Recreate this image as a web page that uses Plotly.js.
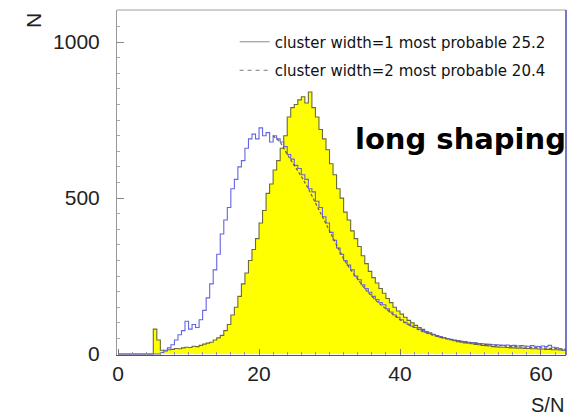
<!DOCTYPE html>
<html>
<head>
<meta charset="utf-8">
<script src="https://cdn.plot.ly/plotly-3.0.1.min.js"></script>
<style>html,body{margin:0;padding:0;background:#fff;}#chart{width:582px;height:417px;}</style>
</head>
<body>
<div id="chart"></div>
<script>
// Histogram bins: start 0, width 0.5 (S/N units)
const binStart = 0;
const binWidth = 0.5;

// cluster width = 1 (yellow filled histogram)
const width1Counts = [
  0,0,0,0,0,0,0,0,0,0,
  80,45,12,10,14,15,18,17,20,22,
  21,25,24,28,32,35,38,45,52,60,
  75,95,125,150,185,225,260,300,335,370,
  420,460,515,545,590,620,660,700,760,790,
  800,815,825,805,840,790,760,720,690,655,
  610,575,530,500,455,430,395,370,345,315,
  290,265,245,228,210,195,178,165,150,138,
  128,118,108,100,92,85,79,72,68,63,
  59,55,52,49,46,43,40,38,36,35,
  33,31,30,28,27,26,24,23,22,22,
  21,20,20,19,19,18,18,17,17,16,
  16,15,15,14,14,13,12,12
];

// cluster width = 2 (blue histogram)
const width2Counts = [
  0,0,0,0,0,0,0,0,0,0,
  0,0,5,12,20,30,45,62,75,105,
  80,95,85,110,140,180,225,270,320,385,
  430,470,530,560,600,620,660,690,705,690,
  725,700,710,680,700,690,680,665,640,625,
  605,595,575,560,530,520,490,470,440,420,
  390,365,340,320,300,285,270,250,238,222,
  210,198,185,175,165,158,145,135,125,118,
  110,102,96,90,85,80,75,70,66,62,
  58,56,53,50,47,45,43,41,40,38,
  37,36,34,33,32,31,30,30,29,28,
  29,27,28,26,27,26,25,27,25,24,
  26,24,28,22,20,16,13,12
];

// dashed curve (cluster width = 2, fitted shape)
const fitX = [22,23,24,25,26,27,28,29,30,31,32,33,34,35,36,37,38,39,40,41,42,43,44,45,46,47,48,49,50,52,54,56,58,60,62,63.5];
const fitY = [700,680,640,605,570,530,485,440,395,345,305,270,238,210,185,163,145,127,110,96,84,74,65,58,52,47,43,39,36,31,27,24,22,20,18,16];

const legendLabels = ['cluster width=1 most probable 25.2', 'cluster width=2 most probable 20.4'];

function steps(counts){
  const xs = [], ys = [];
  for (let i = 0; i < counts.length; i++){ xs.push(binStart + i*binWidth); ys.push(counts[i]); }
  xs.push(binStart + counts.length*binWidth); ys.push(counts[counts.length-1]);
  return {x: xs, y: ys};
}
const s1 = steps(width1Counts), s2 = steps(width2Counts);

const traces = [
  {x: s1.x, y: s1.y, type: 'scatter', mode: 'lines', line: {shape: 'hv', color: '#6b6b3a', width: 1.1},
   fill: 'tozeroy', fillcolor: '#ffff00', showlegend: false, hoverinfo: 'skip'},
  {x: s2.x, y: s2.y, type: 'scatter', mode: 'lines', line: {shape: 'hv', color: '#6464e6', width: 1.1},
   showlegend: false, hoverinfo: 'skip'},
  {x: fitX, y: fitY, type: 'scatter', mode: 'lines', line: {color: '#6e5e34', width: 1.2, dash: '3px,2px'},
   showlegend: false, hoverinfo: 'skip'},
  {x: [null], y: [null], type: 'scatter', mode: 'lines', name: legendLabels[0],
   line: {color: '#8a8a8a', width: 1}, legendgroup: 'a'},
  {x: [null], y: [null], type: 'scatter', mode: 'lines', name: legendLabels[1],
   line: {color: '#7a7a7a', width: 1, dash: '4px,4px'}, legendgroup: 'b'}
];

const tickFont = {family: 'Liberation Sans, Arial, sans-serif', size: 21, color: '#222'};

const layout = {
  width: 582, height: 417,
  margin: {l: 117, r: 16, t: 10, b: 62, pad: 0},
  paper_bgcolor: '#fff', plot_bgcolor: '#fff',
  showlegend: true,
  legend: {x: 0.262, y: 0.955, xanchor: 'left', yanchor: 'top', bgcolor: 'rgba(0,0,0,0)',
           font: {family: 'DejaVu Sans, sans-serif', size: 15, color: '#111'},
           tracegroupgap: 6, traceorder: 'grouped', itemwidth: 30},
  xaxis: {range: [-0.15, 63.55], tickvals: [0,20,40,60], ticktext: ['0','20','40','60'],
          ticks: 'inside', ticklen: 6, tickcolor: '#777', showgrid: false, zeroline: false,
          showline: true, linecolor: '#555', linewidth: 1.2, tickfont: tickFont,
          minor: {dtick: 2, tick0: 0, ticks: 'inside', ticklen: 3, tickcolor: '#999', showgrid: false}},
  yaxis: {range: [-3, 1103], tickvals: [0,500,1000], ticktext: ['0','500','1000'],
          ticks: 'inside', ticklen: 7, tickcolor: '#888', showgrid: false, zeroline: false,
          showline: true, linecolor: '#999', linewidth: 1, tickfont: tickFont, ticklabelstandoff: 12,
          minor: {dtick: 50, tick0: 0, ticks: 'inside', ticklen: 3, tickcolor: '#aaa', showgrid: false}},
  shapes: [
    {type: 'line', xref: 'paper', yref: 'paper', x0: 0, x1: 1, y0: 1, y1: 1, line: {color: '#a0a0a0', width: 1}},
    {type: 'line', xref: 'paper', yref: 'paper', x0: 1, x1: 1, y0: 0, y1: 1, line: {color: '#4a4ab8', width: 1.5}}
  ],
  annotations: [
    {text: 'long shaping', xref: 'paper', yref: 'paper', x: 1.005, y: 0.625, xanchor: 'right', yanchor: 'middle',
     showarrow: false, font: {family: 'DejaVu Sans, sans-serif', size: 29, color: '#000', weight: 'bold'}},
    {text: 'N', xref: 'paper', yref: 'paper', x: -0.187, y: 0.968, xanchor: 'center', yanchor: 'middle',
     textangle: -90, showarrow: false, font: {family: 'Liberation Sans, Arial, sans-serif', size: 21, color: '#222'}},
    {text: 'S/N', xref: 'paper', yref: 'paper', x: 0.958, y: -0.145, xanchor: 'center', yanchor: 'middle',
     showarrow: false, font: {family: 'Liberation Sans, Arial, sans-serif', size: 20, color: '#222'}}
  ]
};

Plotly.newPlot('chart', traces, layout, {staticPlot: true, displayModeBar: false});
</script>
</body>
</html>
